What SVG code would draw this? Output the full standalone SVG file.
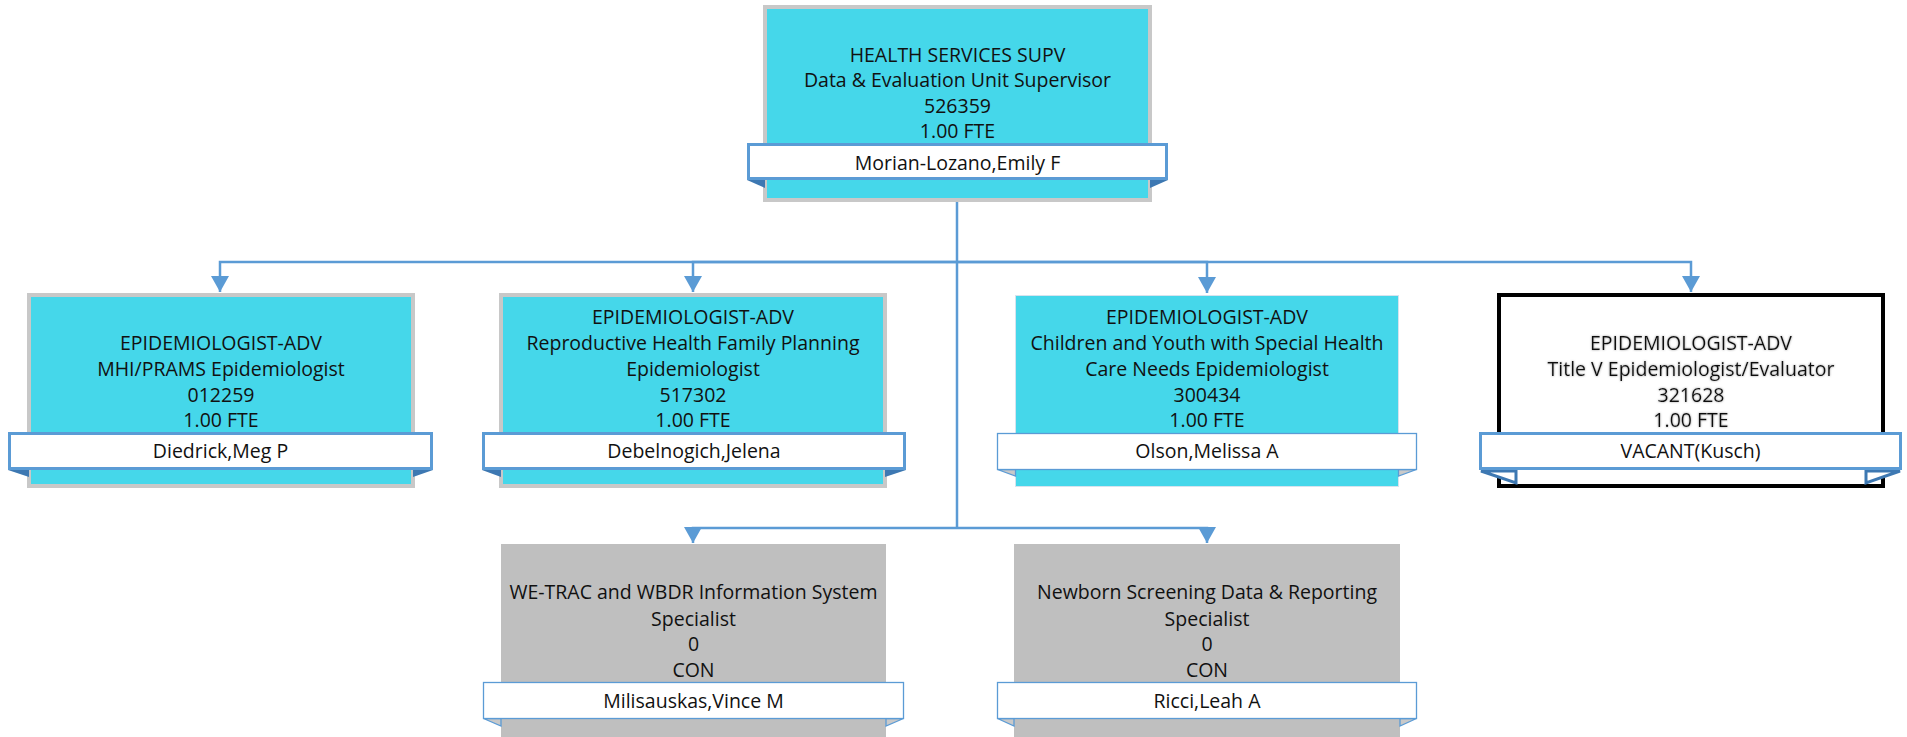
<svg xmlns="http://www.w3.org/2000/svg" width="1907" height="737" viewBox="0 0 1907 737">
<style>
.t{font-family:"Open Sans","Liberation Sans",sans-serif;font-size:19.5px;fill:#111;text-anchor:middle}
.cyan{fill:#45D7EA;stroke:#C8C8C8;stroke-width:4}
.cyan2{fill:#45D7EA;stroke:#D6E3EE;stroke-width:1}
.vac{fill:#FFFFFF;stroke:#000;stroke-width:4}
.gray{fill:#BFBFBF}
.band{fill:#FFFFFF;stroke:#5B9BD5;stroke-width:3}
.band2{fill:#FFFFFF;stroke:#5B9BD5;stroke-width:1.3}
.tab{fill:#3D78B2}
.tab2{fill:#C9C9C9;stroke:#5B9BD5;stroke-width:1.3}
.tab3{fill:#FFFFFF;stroke:#3D78B2;stroke-width:3}
.conn{fill:none;stroke:#5B9BD5;stroke-width:2.5}
</style>
<defs>
<marker id="arr" markerUnits="userSpaceOnUse" markerWidth="16" markerHeight="18" viewBox="0 0 16 18" refX="16" refY="9" orient="auto">
<path d="M0,0 L16,9 L0,18 z" fill="#5B9BD5"/>
</marker>
<filter id="glow" x="-10%" y="-30%" width="120%" height="160%">
<feDropShadow dx="0" dy="0" stdDeviation="1.3" flood-color="#7F7F7F" flood-opacity="0.8"/>
</filter>
</defs>

<g id="connectors">
<path class="conn" d="M957,202 V528"/>
<path class="conn" d="M957,262 H220 V292" marker-end="url(#arr)"/>
<path class="conn" d="M957,262 H693 V292" marker-end="url(#arr)"/>
<path class="conn" d="M957,262 H1207 V293" marker-end="url(#arr)"/>
<path class="conn" d="M957,262 H1691 V292" marker-end="url(#arr)"/>
<path class="conn" d="M957,528 H693 V543" marker-end="url(#arr)"/>
<path class="conn" d="M957,528 H1207 V543" marker-end="url(#arr)"/>
</g>

<g id="node-supervisor">
<rect class="cyan" x="765" y="7" width="385" height="193"/>
<polygon class="tab" points="747,180 765,180 765,188"/>
<polygon class="tab" points="1168,180 1150,180 1150,188"/>
<rect class="band" x="748.5" y="144.5" width="418" height="34"/>
<text class="t" x="957.5" y="62">HEALTH SERVICES SUPV</text>
<text class="t" x="957.5" y="87">Data &amp; Evaluation Unit Supervisor</text>
<text class="t" x="957.5" y="113">526359</text>
<text class="t" x="957.5" y="138">1.00 FTE</text>
<text class="t" x="957.5" y="170">Morian-Lozano,Emily F</text>
</g>

<g id="node-mhi">
<rect class="cyan" x="29" y="295" width="384" height="191"/>
<polygon class="tab" points="8,470 29,470 29,477"/>
<polygon class="tab" points="433,470 413,470 413,477"/>
<rect class="band" x="9.5" y="433.5" width="422" height="35"/>
<text class="t" x="221" y="350">EPIDEMIOLOGIST-ADV</text>
<text class="t" x="221" y="376">MHI/PRAMS Epidemiologist</text>
<text class="t" x="221" y="402">012259</text>
<text class="t" x="221" y="427">1.00 FTE</text>
<text class="t" x="220.5" y="458">Diedrick,Meg P</text>
</g>

<g id="node-rhfp">
<rect class="cyan" x="501" y="295" width="384" height="191"/>
<polygon class="tab" points="482,470 501,470 501,477"/>
<polygon class="tab" points="906,470 885,470 885,477"/>
<rect class="band" x="483.5" y="433.5" width="421" height="35"/>
<text class="t" x="693" y="324">EPIDEMIOLOGIST-ADV</text>
<text class="t" x="693" y="350">Reproductive Health Family Planning</text>
<text class="t" x="693" y="376">Epidemiologist</text>
<text class="t" x="693" y="402">517302</text>
<text class="t" x="693" y="427">1.00 FTE</text>
<text class="t" x="694" y="458">Debelnogich,Jelena</text>
</g>

<g id="node-cyshcn">
<rect class="cyan2" x="1015.5" y="295.5" width="383" height="191"/>
<polygon class="tab2" points="997.5,469.5 1015.5,469.5 1015.5,476"/>
<polygon class="tab2" points="1416.5,469.5 1398.5,469.5 1398.5,476"/>
<rect class="band2" x="997.5" y="433.5" width="419" height="36"/>
<text class="t" x="1207" y="324">EPIDEMIOLOGIST-ADV</text>
<text class="t" x="1207" y="350">Children and Youth with Special Health</text>
<text class="t" x="1207" y="376">Care Needs Epidemiologist</text>
<text class="t" x="1207" y="402">300434</text>
<text class="t" x="1207" y="427">1.00 FTE</text>
<text class="t" x="1207" y="458">Olson,Melissa A</text>
</g>

<g id="node-titlev">
<rect class="vac" x="1499" y="295" width="384" height="191"/>
<polygon class="tab3" points="1481,471 1516,483 1516,471"/>
<polygon class="tab3" points="1900,471 1866,483 1866,471"/>
<rect class="band" x="1480.5" y="433.5" width="420" height="35"/>
<g filter="url(#glow)">
<text class="t" x="1691" y="350">EPIDEMIOLOGIST-ADV</text>
<text class="t" x="1691" y="376">Title V Epidemiologist/Evaluator</text>
<text class="t" x="1691" y="402">321628</text>
<text class="t" x="1691" y="427">1.00 FTE</text>
</g>
<text class="t" x="1690.5" y="458">VACANT(Kusch)</text>
</g>

<g id="node-wetrac">
<rect class="gray" x="501" y="544" width="385" height="200"/>
<polygon class="tab2" points="483.5,718.5 501,718.5 501,726"/>
<polygon class="tab2" points="903.5,718.5 886,718.5 886,726"/>
<rect class="band2" x="483.5" y="682.5" width="420" height="36"/>
<text class="t" x="693.5" y="599">WE-TRAC and WBDR Information System</text>
<text class="t" x="693.5" y="626">Specialist</text>
<text class="t" x="693.5" y="651">0</text>
<text class="t" x="693.5" y="677">CON</text>
<text class="t" x="693.5" y="708">Milisauskas,Vince M</text>
</g>

<g id="node-newborn">
<rect class="gray" x="1014" y="544" width="386" height="200"/>
<polygon class="tab2" points="997.5,718.5 1014,718.5 1014,726"/>
<polygon class="tab2" points="1416.5,718.5 1400,718.5 1400,726"/>
<rect class="band2" x="997.5" y="682.5" width="419" height="36"/>
<text class="t" x="1207" y="599">Newborn Screening Data &amp; Reporting</text>
<text class="t" x="1207" y="626">Specialist</text>
<text class="t" x="1207" y="651">0</text>
<text class="t" x="1207" y="677">CON</text>
<text class="t" x="1207" y="708">Ricci,Leah A</text>
</g>
</svg>
